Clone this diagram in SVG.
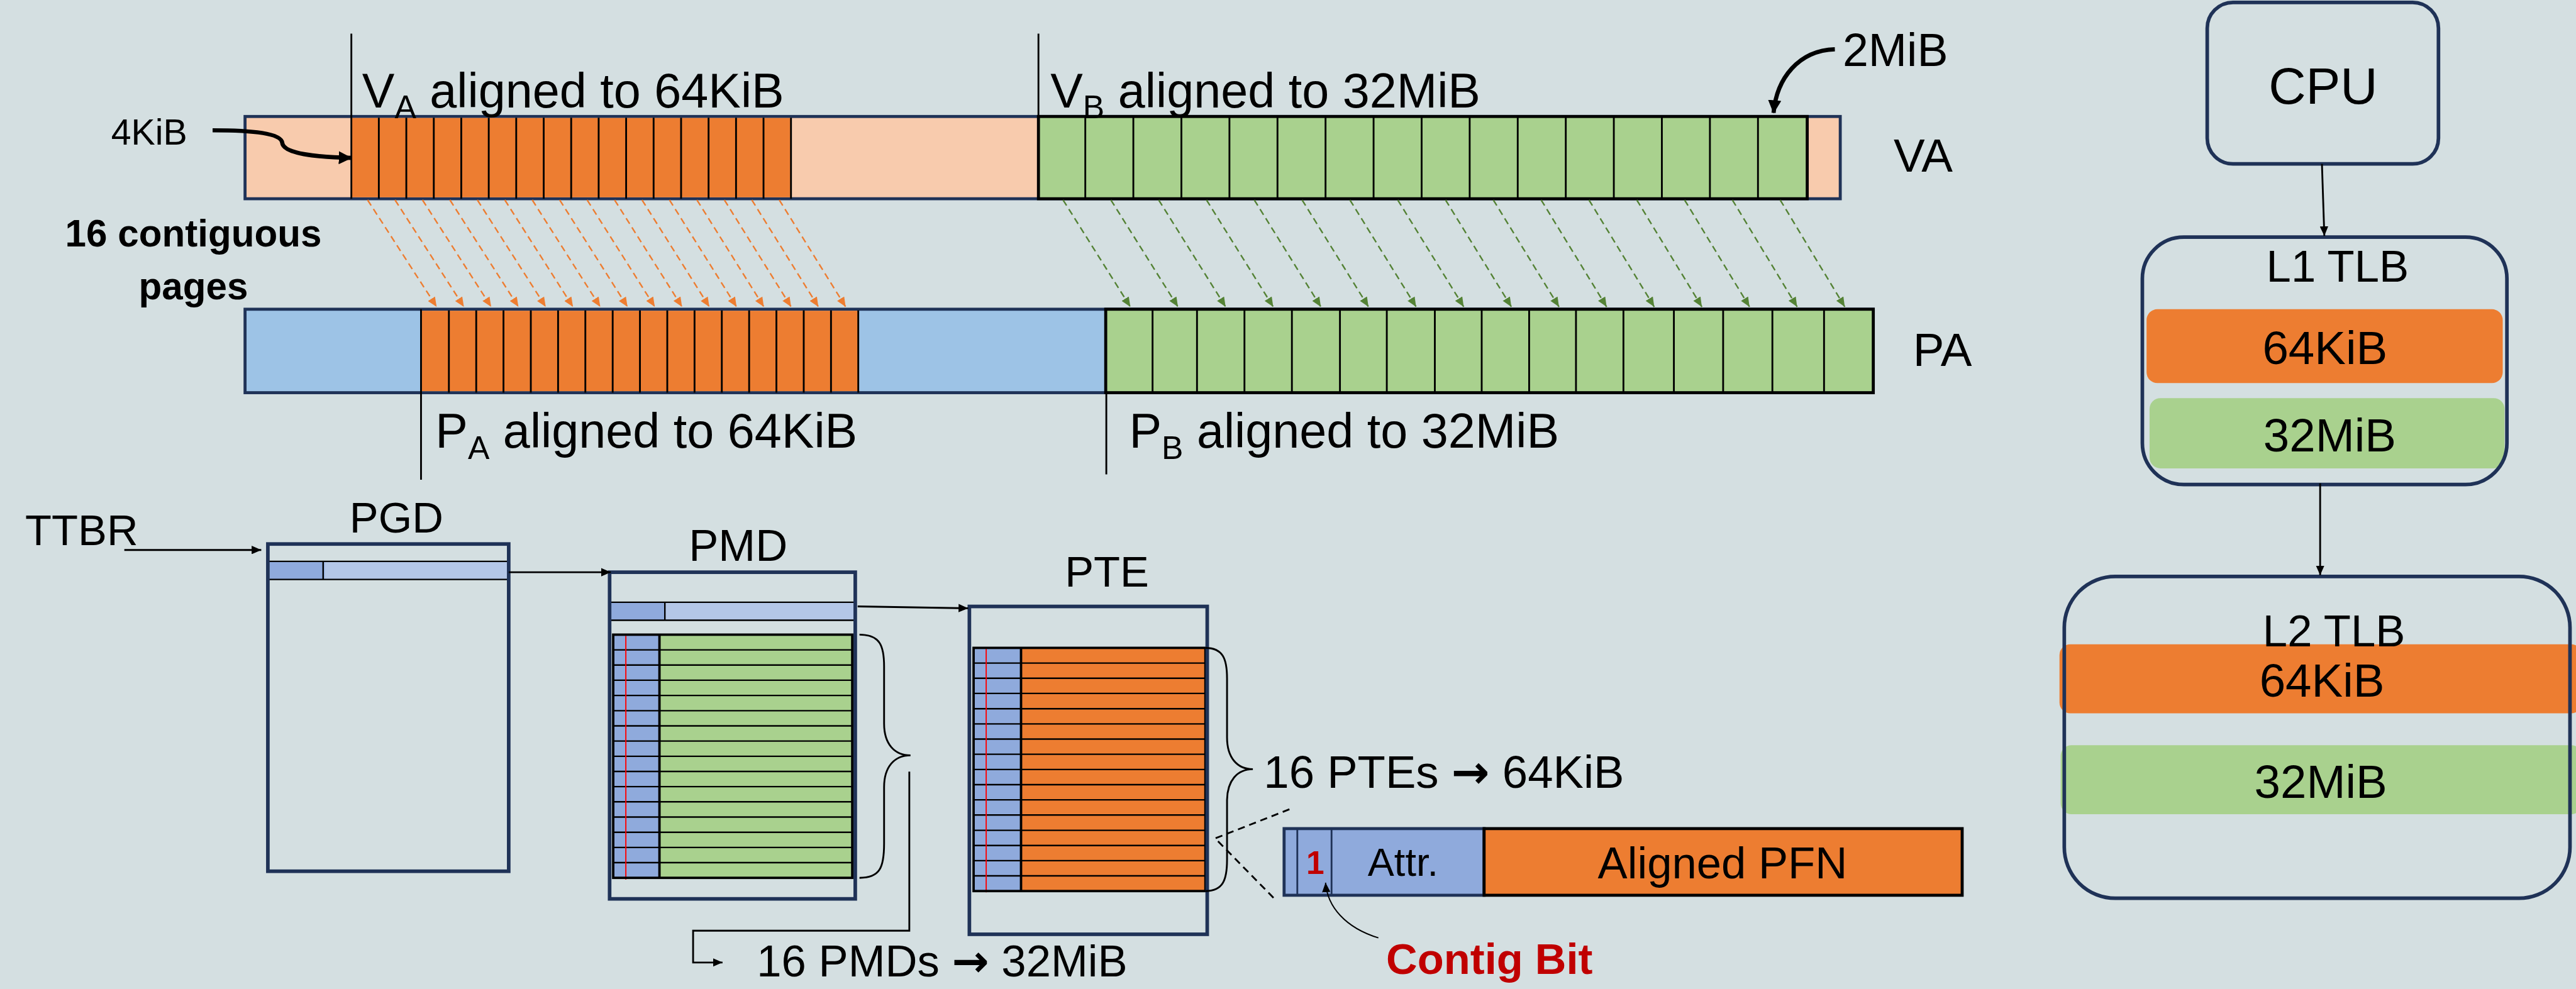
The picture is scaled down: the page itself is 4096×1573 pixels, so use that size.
<svg xmlns="http://www.w3.org/2000/svg" width="4096" height="1573" viewBox="0 0 4096 1573">
<style>
.t{font-family:"Liberation Sans",Arial,sans-serif;fill:#000}
.b{font-weight:bold}
.ar{font-family:"DejaVu Sans",sans-serif;font-weight:bold}
.nv{fill:none;stroke:#1F3257;stroke-width:6}
.div3{stroke:#000;stroke-width:3;fill:none}
.oarr{stroke:#ED7D31;stroke-width:2.5;stroke-dasharray:11 7;fill:none}
.garr{stroke:#548235;stroke-width:2.5;stroke-dasharray:11 7;fill:none}
.ln{stroke:#000;stroke-width:3;fill:none}
</style>
<defs>
<marker id="ho" markerUnits="userSpaceOnUse" markerWidth="16" markerHeight="14" refX="16" refY="7" orient="auto"><path d="M0,0L16,7L0,14z" fill="#ED7D31"/></marker>
<marker id="hg" markerUnits="userSpaceOnUse" markerWidth="16" markerHeight="14" refX="16" refY="7" orient="auto"><path d="M0,0L16,7L0,14z" fill="#548235"/></marker>
<marker id="hk" markerUnits="userSpaceOnUse" markerWidth="16" markerHeight="14" refX="16" refY="7" orient="auto"><path d="M0,0L16,7L0,14z" fill="#000"/></marker>
<marker id="hK" markerUnits="userSpaceOnUse" markerWidth="22" markerHeight="22" refX="21" refY="11" orient="auto"><path d="M0,0L22,11L0,22z" fill="#000"/></marker>
</defs>
<rect x="0" y="0" width="4096" height="1573" fill="#D4DFE1"/>
<g transform="scale(0.955)">

<!-- VA bar -->
<g id="va-bar">
<rect x="408" y="194" width="2656" height="137" fill="#F8CBAD" stroke="#1F3257" stroke-width="5"/>
<rect x="585" y="196.5" width="732" height="132" fill="#ED7D31"/>
<path class="div3" d="M630.75,196V331M676.5,196V331M722.25,196V331M768,196V331M813.75,196V331M859.5,196V331M905.25,196V331M951,196V331M996.75,196V331M1042.5,196V331M1088.25,196V331M1134,196V331M1179.75,196V331M1225.5,196V331M1271.25,196V331M1317,196V331"/>
<rect x="1729" y="194" width="1280" height="137" fill="#A9D18E" stroke="#000" stroke-width="5"/>
<path class="div3" d="M1807,194V331M1887,194V331M1967,194V331M2047,194V331M2127,194V331M2207,194V331M2287,194V331M2367,194V331M2447,194V331M2527,194V331M2607,194V331M2687,194V331M2767,194V331M2847,194V331M2927,194V331"/>
<path class="ln" d="M585,56V331M1729,56V331"/>
<text class="t" x="603" y="179" font-size="81">V<tspan font-size="54" dy="18">A</tspan><tspan dy="-18"> aligned to 64KiB</tspan></text>
<text class="t" x="1749" y="179" font-size="81">V<tspan font-size="54" dy="18">B</tspan><tspan dy="-18"> aligned to 32MiB</tspan></text>
<text class="t" x="3153" y="286" font-size="78">VA</text>
</g>

<!-- PA bar -->
<g id="pa-bar">
<rect x="408" y="515" width="2711" height="139" fill="#9DC3E6" stroke="#1F3257" stroke-width="5"/>
<rect x="702" y="517.5" width="727" height="134" fill="#ED7D31"/>
<path class="div3" d="M747.4,517V654M792.9,517V654M838.3,517V654M883.8,517V654M929.2,517V654M974.6,517V654M1020.1,517V654M1065.5,517V654M1111,517V654M1156.4,517V654M1201.8,517V654M1247.3,517V654M1292.7,517V654M1338.2,517V654M1383.6,517V654M1429,517V654"/>
<rect x="1841" y="515" width="1278" height="139" fill="#A9D18E" stroke="#000" stroke-width="5"/>
<path class="div3" d="M1919,515V654M1993,515V654M2072,515V654M2151,515V654M2231,515V654M2309,515V654M2389,515V654M2467,515V654M2546,515V654M2624,515V654M2703,515V654M2787,515V654M2869,515V654M2951,515V654M3037,515V654"/>
<path class="ln" d="M701,515V799M1842,654V790"/>
<text class="t" x="725" y="746" font-size="81">P<tspan font-size="54" dy="18">A</tspan><tspan dy="-18"> aligned to 64KiB</tspan></text>
<text class="t" x="1880" y="746" font-size="81">P<tspan font-size="54" dy="18">B</tspan><tspan dy="-18"> aligned to 32MiB</tspan></text>
<text class="t" x="3185" y="609" font-size="78">PA</text>
</g>

<!-- labels -->
<g id="label-4kib">
<text class="t" x="185" y="241" font-size="60">4KiB</text>
</g>
<g id="label-contig-pages">
<text class="t b" x="322" y="411" font-size="63" text-anchor="middle">16 contiguous</text>
<text class="t b" x="322" y="498" font-size="63" text-anchor="middle">pages</text>
</g>
<g id="label-2mib">
<text class="t" x="3068" y="110" font-size="77">2MiB</text>
</g>
<g id="ttbr">
<text class="t" x="42" y="908" font-size="72">TTBR</text>
</g>

<!-- PGD -->
<g id="pgd">
<text class="t" x="660" y="887" font-size="72" text-anchor="middle">PGD</text>
<rect x="449" y="935" width="92" height="30" fill="#8FAADC"/>
<rect x="541" y="935" width="303" height="30" fill="#B4C7E7"/>
<path d="M446,935H847M446,965H847M538,935V965" stroke="#000" stroke-width="2.5" fill="none"/>
<rect class="nv" x="446" y="906" width="401" height="545"/>
</g>

<!-- PMD -->
<g id="pmd">
<text class="t" x="1229" y="934" font-size="74" text-anchor="middle">PMD</text>
<rect x="1018" y="1003" width="89" height="30" fill="#8FAADC"/>
<rect x="1107" y="1003" width="314" height="30" fill="#B4C7E7"/>
<path d="M1015,1003H1424M1015,1033H1424M1107,1003V1033" stroke="#000" stroke-width="2.5" fill="none"/>
<rect x="1021" y="1057" width="77" height="405" fill="#8FAADC"/>
<rect x="1098" y="1057" width="321" height="405" fill="#A9D18E"/>
<path d="M1021,1082.3H1419M1021,1107.6H1419M1021,1132.9H1419M1021,1158.3H1419M1021,1183.6H1419M1021,1208.9H1419M1021,1234.2H1419M1021,1259.5H1419M1021,1284.8H1419M1021,1310.1H1419M1021,1335.4H1419M1021,1360.8H1419M1021,1386.1H1419M1021,1411.4H1419M1021,1436.7H1419" stroke="#000" stroke-width="2.5" fill="none"/>
<path d="M1042,1059V1465" stroke="#FF0000" stroke-width="2" fill="none"/>
<path d="M1098,1057V1462" stroke="#000" stroke-width="4" fill="none"/>
<rect x="1021" y="1057" width="398" height="405" fill="none" stroke="#000" stroke-width="4"/>
<rect class="nv" x="1015" y="953" width="409" height="544"/>
</g>

<!-- PTE -->
<g id="pte">
<text class="t" x="1843" y="977" font-size="72" text-anchor="middle">PTE</text>
<rect x="1621" y="1079" width="79" height="405" fill="#8FAADC"/>
<rect x="1700" y="1079" width="307" height="405" fill="#ED7D31"/>
<path d="M1621,1104.3H2007M1621,1129.6H2007M1621,1154.9H2007M1621,1180.3H2007M1621,1205.6H2007M1621,1230.9H2007M1621,1256.2H2007M1621,1281.5H2007M1621,1306.8H2007M1621,1332.1H2007M1621,1357.4H2007M1621,1382.8H2007M1621,1408.1H2007M1621,1433.4H2007M1621,1458.7H2007" stroke="#000" stroke-width="2.5" fill="none"/>
<path d="M1642,1081V1486" stroke="#FF0000" stroke-width="2" fill="none"/>
<path d="M1700,1079V1484" stroke="#000" stroke-width="4" fill="none"/>
<rect x="1621" y="1079" width="386" height="405" fill="none" stroke="#000" stroke-width="4"/>
<rect class="nv" x="1614" y="1010" width="396" height="546"/>
</g>

<!-- braces and size labels -->
<g id="pmd-brace">
<path class="ln" d="M1431,1057C1465,1057 1472,1075 1472,1110L1472,1205C1472,1240 1490,1258 1516,1258C1490,1258 1472,1276 1472,1311L1472,1405C1472,1445 1465,1462 1431,1462"/>
<text class="t" x="1260" y="1626" font-size="74">16 PMDs <tspan class="ar">→</tspan> 32MiB</text>
</g>
<g id="pte-brace">
<path class="ln" d="M2007,1079C2036,1079 2043,1097 2043,1130L2043,1228C2043,1262 2060,1281 2086,1281C2060,1281 2043,1300 2043,1334L2043,1432C2043,1466 2036,1484 2007,1484"/>
<text class="t" x="2104" y="1312" font-size="76">16 PTEs <tspan class="ar">→</tspan> 64KiB</text>
</g>

<!-- PFN entry -->
<g id="pte-entry">
<rect x="2138" y="1380" width="333" height="111" fill="#8FAADC" stroke="#1F3257" stroke-width="5"/>
<path d="M2160,1380V1491M2217,1380V1491" stroke="#1F3257" stroke-width="3" fill="none"/>
<rect x="2471" y="1380" width="796" height="111" fill="#ED7D31" stroke="#000" stroke-width="5"/>
<text class="t b" x="2190" y="1455" font-size="54" text-anchor="middle" style="fill:#C00000">1</text>
<text class="t" x="2336" y="1459" font-size="66" text-anchor="middle">Attr.</text>
<text class="t" x="2868" y="1463" font-size="74" text-anchor="middle">Aligned PFN</text>
</g>
<g id="contig-bit">
<text class="t b" x="2308" y="1622" font-size="72" style="fill:#C00000">Contig Bit</text>
</g>

<!-- CPU / TLBs -->
<g id="cpu">
<rect class="nv" x="3675" y="4" width="385" height="269" rx="43" ry="43" stroke-width="7"/>
<text class="t" x="3868" y="173" font-size="86" text-anchor="middle">CPU</text>
</g>
<g id="l1-tlb">
<rect x="3574" y="515" width="593" height="123" rx="18" fill="#ED7D31"/>
<rect x="3579" y="663" width="591" height="117" rx="18" fill="#A9D18E"/>
<rect class="nv" x="3567" y="395" width="607" height="412" rx="69" ry="69" stroke-width="7"/>
<text class="t" x="3892" y="469" font-size="74" text-anchor="middle">L1 TLB</text>
<text class="t" x="3871" y="606" font-size="78" text-anchor="middle">64KiB</text>
<text class="t" x="3879" y="752" font-size="78" text-anchor="middle">32MiB</text>
</g>
<g id="l2-tlb">
<rect x="3429" y="1073" width="870" height="115" rx="18" fill="#ED7D31"/>
<rect x="3431" y="1241" width="868" height="115" rx="18" fill="#A9D18E"/>
<rect class="nv" x="3437" y="960" width="842" height="536" rx="85" ry="85" stroke-width="7"/>
<text class="t" x="3886" y="1076" font-size="74" text-anchor="middle">L2 TLB</text>
<text class="t" x="3866" y="1160" font-size="78" text-anchor="middle">64KiB</text>
<text class="t" x="3864" y="1329" font-size="78" text-anchor="middle">32MiB</text>
</g>

<!-- connectors -->
<g id="connectors">
<path class="oarr" marker-end="url(#ho)" d="M612,333L727,511"/>
<path class="oarr" marker-end="url(#ho)" d="M657.7,333L772.4,511"/>
<path class="oarr" marker-end="url(#ho)" d="M703.4,333L817.8,511"/>
<path class="oarr" marker-end="url(#ho)" d="M749.1,333L863.2,511"/>
<path class="oarr" marker-end="url(#ho)" d="M794.8,333L908.6,511"/>
<path class="oarr" marker-end="url(#ho)" d="M840.5,333L954,511"/>
<path class="oarr" marker-end="url(#ho)" d="M886.2,333L999.4,511"/>
<path class="oarr" marker-end="url(#ho)" d="M931.9,333L1044.8,511"/>
<path class="oarr" marker-end="url(#ho)" d="M977.6,333L1090.2,511"/>
<path class="oarr" marker-end="url(#ho)" d="M1023.3,333L1135.6,511"/>
<path class="oarr" marker-end="url(#ho)" d="M1069,333L1181,511"/>
<path class="oarr" marker-end="url(#ho)" d="M1114.7,333L1226.4,511"/>
<path class="oarr" marker-end="url(#ho)" d="M1160.4,333L1271.8,511"/>
<path class="oarr" marker-end="url(#ho)" d="M1206.1,333L1317.2,511"/>
<path class="oarr" marker-end="url(#ho)" d="M1251.8,333L1362.6,511"/>
<path class="oarr" marker-end="url(#ho)" d="M1297.5,333L1408,511"/>
<path class="garr" marker-end="url(#hg)" d="M1770,333L1882,511"/>
<path class="garr" marker-end="url(#hg)" d="M1849.6,333L1961.3,511"/>
<path class="garr" marker-end="url(#hg)" d="M1929.2,333L2040.6,511"/>
<path class="garr" marker-end="url(#hg)" d="M2008.8,333L2119.9,511"/>
<path class="garr" marker-end="url(#hg)" d="M2088.4,333L2199.2,511"/>
<path class="garr" marker-end="url(#hg)" d="M2168,333L2278.5,511"/>
<path class="garr" marker-end="url(#hg)" d="M2247.6,333L2357.8,511"/>
<path class="garr" marker-end="url(#hg)" d="M2327.2,333L2437.1,511"/>
<path class="garr" marker-end="url(#hg)" d="M2406.8,333L2516.4,511"/>
<path class="garr" marker-end="url(#hg)" d="M2486.4,333L2595.7,511"/>
<path class="garr" marker-end="url(#hg)" d="M2566,333L2675,511"/>
<path class="garr" marker-end="url(#hg)" d="M2645.6,333L2754.3,511"/>
<path class="garr" marker-end="url(#hg)" d="M2725.2,333L2833.6,511"/>
<path class="garr" marker-end="url(#hg)" d="M2804.8,333L2912.9,511"/>
<path class="garr" marker-end="url(#hg)" d="M2884.4,333L2992.2,511"/>
<path class="garr" marker-end="url(#hg)" d="M2964,333L3071.5,511"/>
<path d="M354,217C420,217 468,222 470,238C472,256 530,262 585,263" stroke="#000" stroke-width="7" fill="none" marker-end="url(#hK)"/>
<path d="M3055,82C2995,84 2958,130 2953,188" stroke="#000" stroke-width="7" fill="none" marker-end="url(#hK)"/>
<path class="ln" marker-end="url(#hk)" d="M207,916L435,916"/>
<path class="ln" marker-end="url(#hk)" d="M847,953L1017,953"/>
<path class="ln" marker-end="url(#hk)" d="M1428,1010L1612,1013"/>
<path class="ln" marker-end="url(#hk)" d="M1514,1285V1550H1154V1603H1203"/>
<path d="M2024,1396L2154,1345M2028,1401L2123,1498" stroke="#000" stroke-width="3" stroke-dasharray="12 8" fill="none"/>
<path d="M2295,1562C2240,1545 2210,1510 2207,1470" stroke="#000" stroke-width="2" fill="none" marker-end="url(#hk)"/>
<path class="ln" marker-end="url(#hk)" d="M3866,273L3870,393"/>
<path class="ln" marker-end="url(#hk)" d="M3863,805L3863,958"/>
</g>
</g>
</svg>
